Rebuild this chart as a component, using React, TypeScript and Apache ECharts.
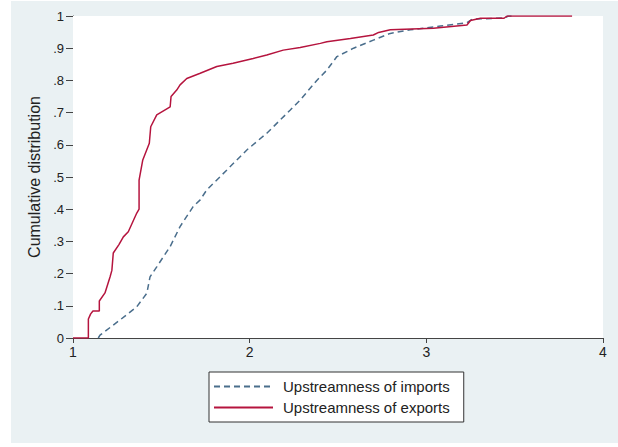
import React, { useEffect, useRef } from "react";
import * as echarts from "echarts";

const xTicks = [1, 2, 3, 4];
const yTickLabels = ["0", ".1", ".2", ".3", ".4", ".5", ".6", ".7", ".8", ".9", "1"];

const exportsX = [1.0, 1.087, 1.087, 1.1, 1.113, 1.149, 1.149, 1.181, 1.21, 1.22, 1.228, 1.26, 1.285, 1.313, 1.361, 1.374, 1.374, 1.395, 1.432, 1.44, 1.474, 1.55, 1.555, 1.587, 1.606, 1.644, 1.72, 1.814, 1.906, 2.02, 2.097, 2.19, 2.286, 2.4, 2.437, 2.57, 2.7, 2.73, 2.796, 3.04, 3.23, 3.25, 3.306, 3.44, 3.457, 3.825];
const exportsY = [0, 0, 0.059, 0.075, 0.084, 0.084, 0.115, 0.14, 0.19, 0.21, 0.264, 0.29, 0.314, 0.33, 0.388, 0.4, 0.49, 0.553, 0.605, 0.656, 0.693, 0.718, 0.75, 0.77, 0.786, 0.806, 0.822, 0.843, 0.853, 0.868, 0.879, 0.894, 0.902, 0.915, 0.92, 0.93, 0.941, 0.949, 0.957, 0.962, 0.972, 0.986, 0.993, 0.993, 1.0, 1.0];

const importsX = [1.143, 1.153, 1.266, 1.361, 1.418, 1.436, 1.474, 1.55, 1.606, 1.68, 1.72, 1.757, 1.833, 1.946, 1.984, 2.097, 2.23, 2.286, 2.38, 2.437, 2.494, 2.588, 2.7, 2.796, 2.909, 3.08, 3.23, 3.26, 3.44, 3.465, 3.5];
const importsY = [0, 0.009, 0.056, 0.097, 0.139, 0.19, 0.221, 0.284, 0.346, 0.408, 0.429, 0.46, 0.501, 0.563, 0.584, 0.636, 0.708, 0.739, 0.8, 0.832, 0.874, 0.9, 0.925, 0.946, 0.957, 0.969, 0.979, 0.99, 0.994, 1.0, 1.0];

const FONT = "'Liberation Sans', Arial, sans-serif";

export default function App() {
  const ref = useRef<HTMLDivElement>(null);
  useEffect(() => {
    if (!ref.current) return;
    const chart = echarts.init(ref.current, null, { renderer: "svg" });
    const imports = importsX.map((x, i) => [x, importsY[i]]);
    const exportsD = exportsX.map((x, i) => [x, exportsY[i]]);
    chart.setOption({
      animation: false,
      textStyle: { fontFamily: FONT },
      graphic: [
        {
          type: "rect",
          z: -100,
          silent: true,
          shape: { x: 11, y: 1, width: 607, height: 442 },
          style: { fill: "#EAF1F3" },
        },
      ],
      grid: {
        left: 73,
        top: 16,
        width: 530,
        height: 322,
        show: true,
        backgroundColor: "#FFFFFF",
        borderWidth: 0,
        z: 1,
      },
      legend: {
        orient: "vertical",
        left: 209,
        top: 372,
        backgroundColor: "#FFFFFF",
        borderColor: "#333333",
        borderWidth: 1,
        padding: [7, 14, 7, 4],
        itemGap: 6,
        itemWidth: 59,
        itemHeight: 15,
        itemStyle: { opacity: 0 },
        textStyle: { fontSize: 15, color: "#222222", fontFamily: FONT, padding: [0, 0, 0, 5] },
        data: ["Upstreamness of imports", "Upstreamness of exports"],
      },
      xAxis: {
        type: "value",
        min: 1,
        max: 4,
        interval: 1,
        axisLine: { show: true, lineStyle: { color: "#444444", width: 1 } },
        axisTick: { show: true, length: 5, lineStyle: { color: "#444444" } },
        axisLabel: {
          fontSize: 14,
          color: "#222222",
          margin: 7,
          fontFamily: FONT,
          formatter: (v: number) => (xTicks.includes(v) ? String(v) : ""),
        },
        splitLine: { show: false },
      },
      yAxis: {
        type: "value",
        min: 0,
        max: 1,
        interval: 0.1,
        name: "Cumulative distribution",
        nameLocation: "middle",
        nameGap: 27,
        nameRotate: 90,
        nameTextStyle: { fontSize: 16, color: "#222222", fontFamily: FONT },
        axisLine: { show: true, lineStyle: { color: "#444444", width: 1 } },
        axisTick: { show: true, length: 7, lineStyle: { color: "#444444" } },
        axisLabel: {
          fontSize: 13,
          color: "#222222",
          margin: 9,
          fontFamily: FONT,
          formatter: (v: number) => yTickLabels[Math.round(v * 10)] ?? "",
        },
        splitLine: { show: true, lineStyle: { color: "#EAF1F3", width: 1 } },
      },
      series: [
        {
          name: "Upstreamness of imports",
          type: "line",
          data: imports,
          symbol: "none",
          z: 3,
          lineStyle: { color: "#4A6E8C", width: 1.5, type: [6, 4] },
          itemStyle: { color: "#4A6E8C" },
        },
        {
          name: "Upstreamness of exports",
          type: "line",
          data: exportsD,
          symbol: "none",
          z: 4,
          lineStyle: { color: "#B5143E", width: 1.5, type: "solid" },
          itemStyle: { color: "#B5143E" },
        },
      ],
    });
    return () => chart.dispose();
  }, []);
  return (
    <div
      ref={ref}
      style={{ position: "absolute", left: 0, top: 0, width: 618, height: 447 }}
    />
  );
}
